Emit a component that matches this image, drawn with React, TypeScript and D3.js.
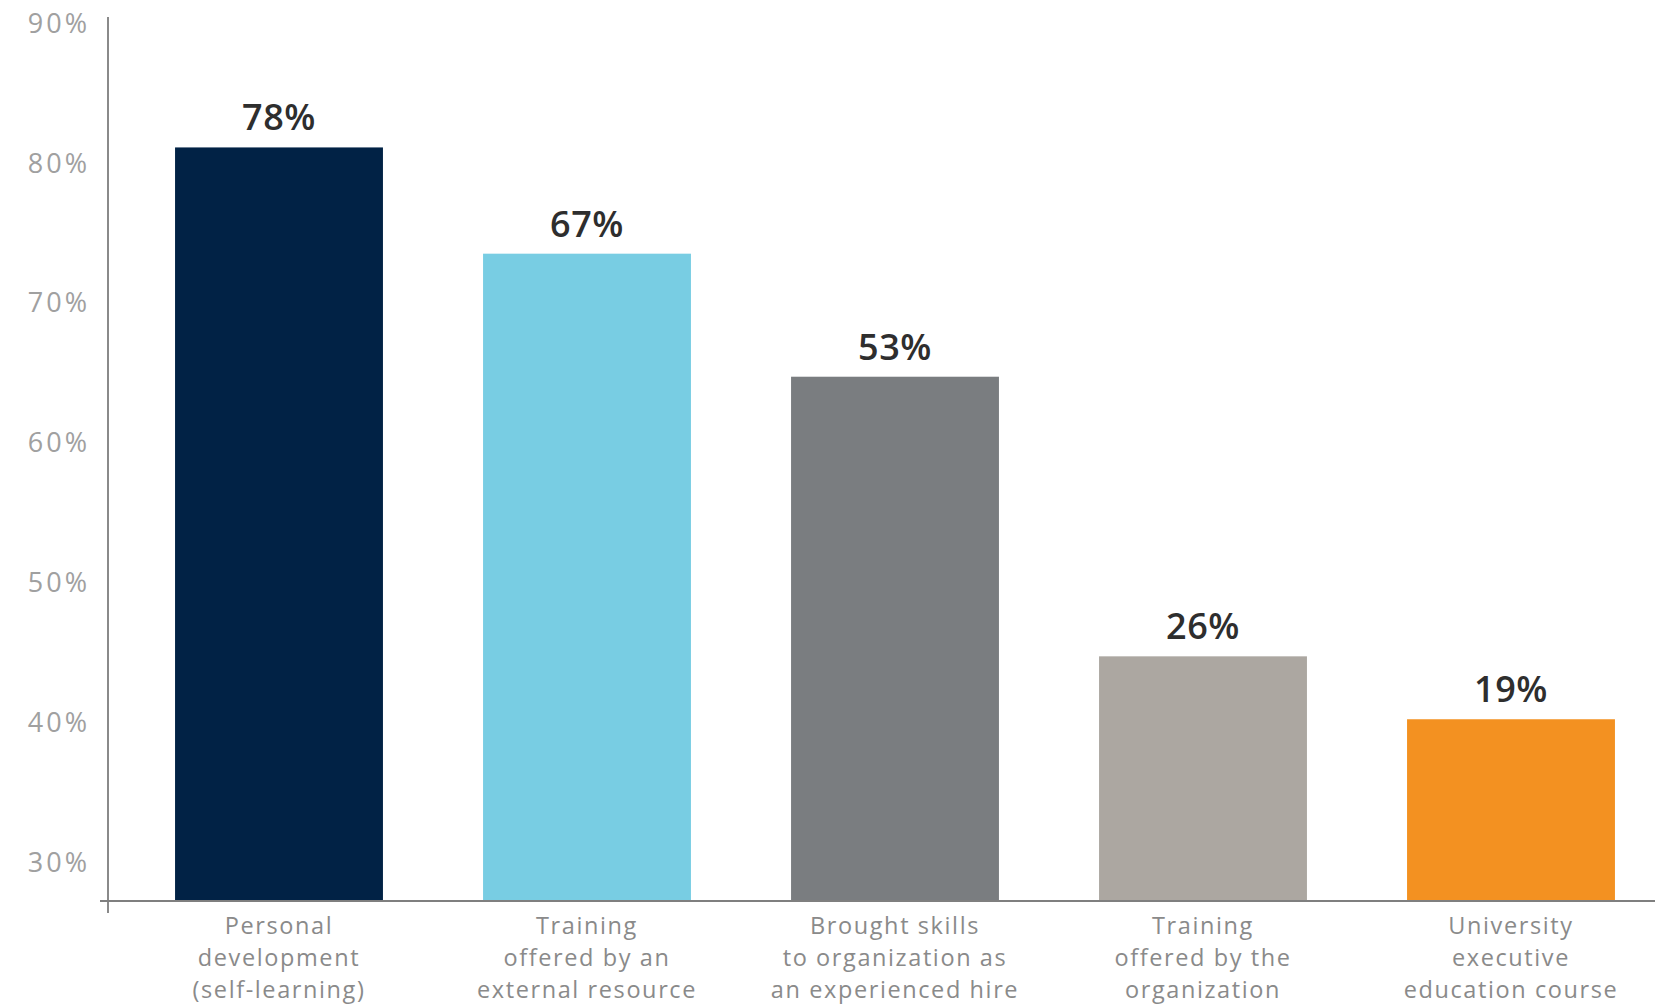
import React from "react";
import * as d3 from "d3";

const categories: string[][] = [
  ["Personal", "development", "(self-learning)"],
  ["Training", "offered by an", "external resource"],
  ["Brought skills", "to organization as", "an experienced hire"],
  ["Training", "offered by the", "organization"],
  ["University", "executive", "education course"],
];
// bar heights as read against the y axis
const barValues: number[] = [81.1, 73.5, 64.7, 44.7, 40.2];
// printed labels above the bars
const labelValues: number[] = [78, 67, 53, 26, 19];
const barColors: string[] = ["#012245", "#78cde3", "#7a7d80", "#aca7a1", "#f39121"];
const yTicks: number[] = [30, 40, 50, 60, 70, 80, 90];
const yMin = 27.2;

const W = 1655;
const H = 1006;
const axisX = 108;
const baseY = 901;

export default function App() {
  const x = d3
    .scaleBand<number>()
    .domain(d3.range(categories.length))
    .range([125, 1665])
    .paddingInner(0.325)
    .paddingOuter(0.1625);
  const y = d3.scaleLinear().domain([yMin, 90]).range([baseY, 23]);

  const font = "'Open Sans', 'DejaVu Sans', sans-serif";

  return (
    <svg
      width={W}
      height={H}
      style={{ position: "absolute", left: 0, top: 0, background: "#fff" }}
    >
      {/* bars */}
      {barValues.map((v, i) => (
        <rect
          key={i}
          x={x(i)}
          y={y(v)}
          width={x.bandwidth()}
          height={y(yMin) - y(v)}
          fill={barColors[i]}
        />
      ))}
      {/* axes */}
      <line x1={axisX} x2={axisX} y1={17} y2={913} stroke="#8a8a8a" strokeWidth={2} />
      <line x1={100} x2={W} y1={baseY} y2={baseY} stroke="#7f7f7f" strokeWidth={2} />
      {yTicks.map((t) => (
        <text
          key={t}
          x={90}
          y={y(t)}
          dy="0.36em"
          textAnchor="end"
          fontFamily={font}
          fontSize={27}
          letterSpacing={3}
          fill="#a0a0a0"
        >
          {t}%
        </text>
      ))}
      {/* value labels */}
      {barValues.map((v, i) => (
        <text
          key={i}
          x={(x(i) as number) + x.bandwidth() / 2}
          y={y(v) - 17}
          textAnchor="middle"
          fontFamily={font}
          fontWeight={600}
          fontSize={36}
          letterSpacing={0.5}
          fill="#2e2e2e"
        >
          {labelValues[i]}%
        </text>
      ))}
      {/* category labels */}
      {categories.map((lines, i) =>
        lines.map((ln, j) => (
          <text
            key={i + "-" + j}
            x={(x(i) as number) + x.bandwidth() / 2}
            y={926 + j * 32}
            dy="0.36em"
            textAnchor="middle"
            fontFamily={font}
            fontSize={23.5}
            letterSpacing={1.6}
            fill="#8a8a8a"
          >
            {ln}
          </text>
        ))
      )}
    </svg>
  );
}
